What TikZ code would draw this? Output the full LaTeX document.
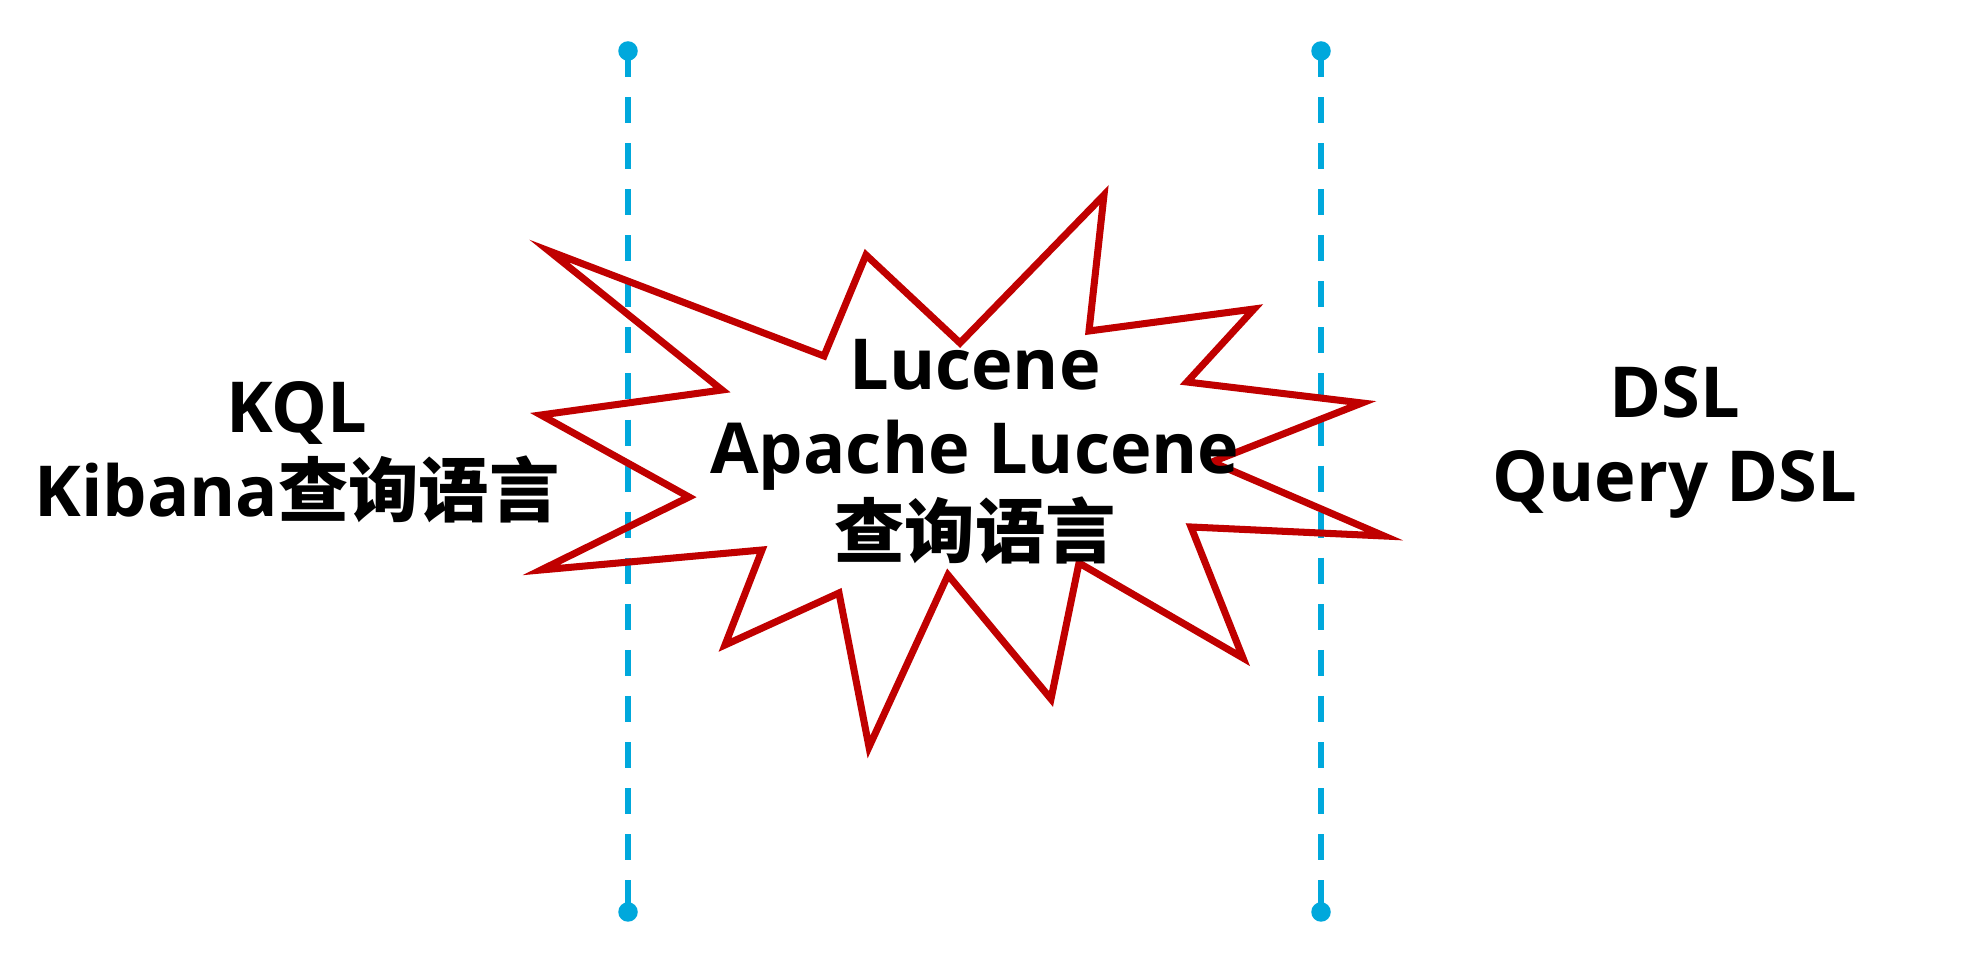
\documentclass[tikz,border=0pt]{standalone}
\usepackage{fontspec}
\setmainfont{Open Sans}
\newfontfamily\cjk{Noto Sans CJK SC}
\usetikzlibrary{positioning}
\definecolor{guideblue}{RGB}{0,168,220}
\definecolor{burstred}{RGB}{192,0,0}

\begin{document}
\begin{tikzpicture}[x=0.01cm,y=-0.01cm,
    guide/.style={guideblue, line width=1.9pt, dash pattern=on 7.4pt off 5.7pt},
    enddot/.style={circle, fill=guideblue, inner sep=0pt, minimum size=0.195cm},
    burst/.style={burstred, line width=2pt, line join=miter},
    lang/.style={font=\bfseries\fontsize{20}{24}\selectfont, align=center, anchor=base}]
    \useasboundingbox (0,0) rectangle (1966,968);

    % Dashed separators
    \coordinate (lt) at (628,51);
    \coordinate (lb) at (628,912);
    \coordinate (rt) at (1321,51);
    \coordinate (rb) at (1321,912);
    \draw[guide] (lt) -- (lb);
    \draw[guide] (rt) -- (rb);
    \foreach \p in {lt,lb,rt,rb}
        \node[enddot] at (\p) {};

    % Explosion round Lucene
    \draw[burst] (549,251) -- (824,356) -- (866,255) -- (960,343) -- (1104,195)
        -- (1089,331) -- (1254,309) -- (1187,382) -- (1362,403) -- (1212,462)
        -- (1384,536) -- (1191,527) -- (1243,658) -- (1079,563) -- (1051,699)
        -- (948,575) -- (869,747) -- (839,593) -- (725,645) -- (762,550)
        -- (541,570) -- (689,497) -- (541,415) -- (722,390) -- cycle;

    % Languages (anchored at the last line)
    \node[lang] (kql) at (297,517) {KQL\\Kibana{\cjk 查询语言}};
    \node[lang] (lucene) at (975,558) {Lucene\\Apache Lucene\\{\cjk 查询语言}};
    \node[lang] (dsl) at (1675,502) {DSL\\Query DSL};
\end{tikzpicture}
\end{document}
